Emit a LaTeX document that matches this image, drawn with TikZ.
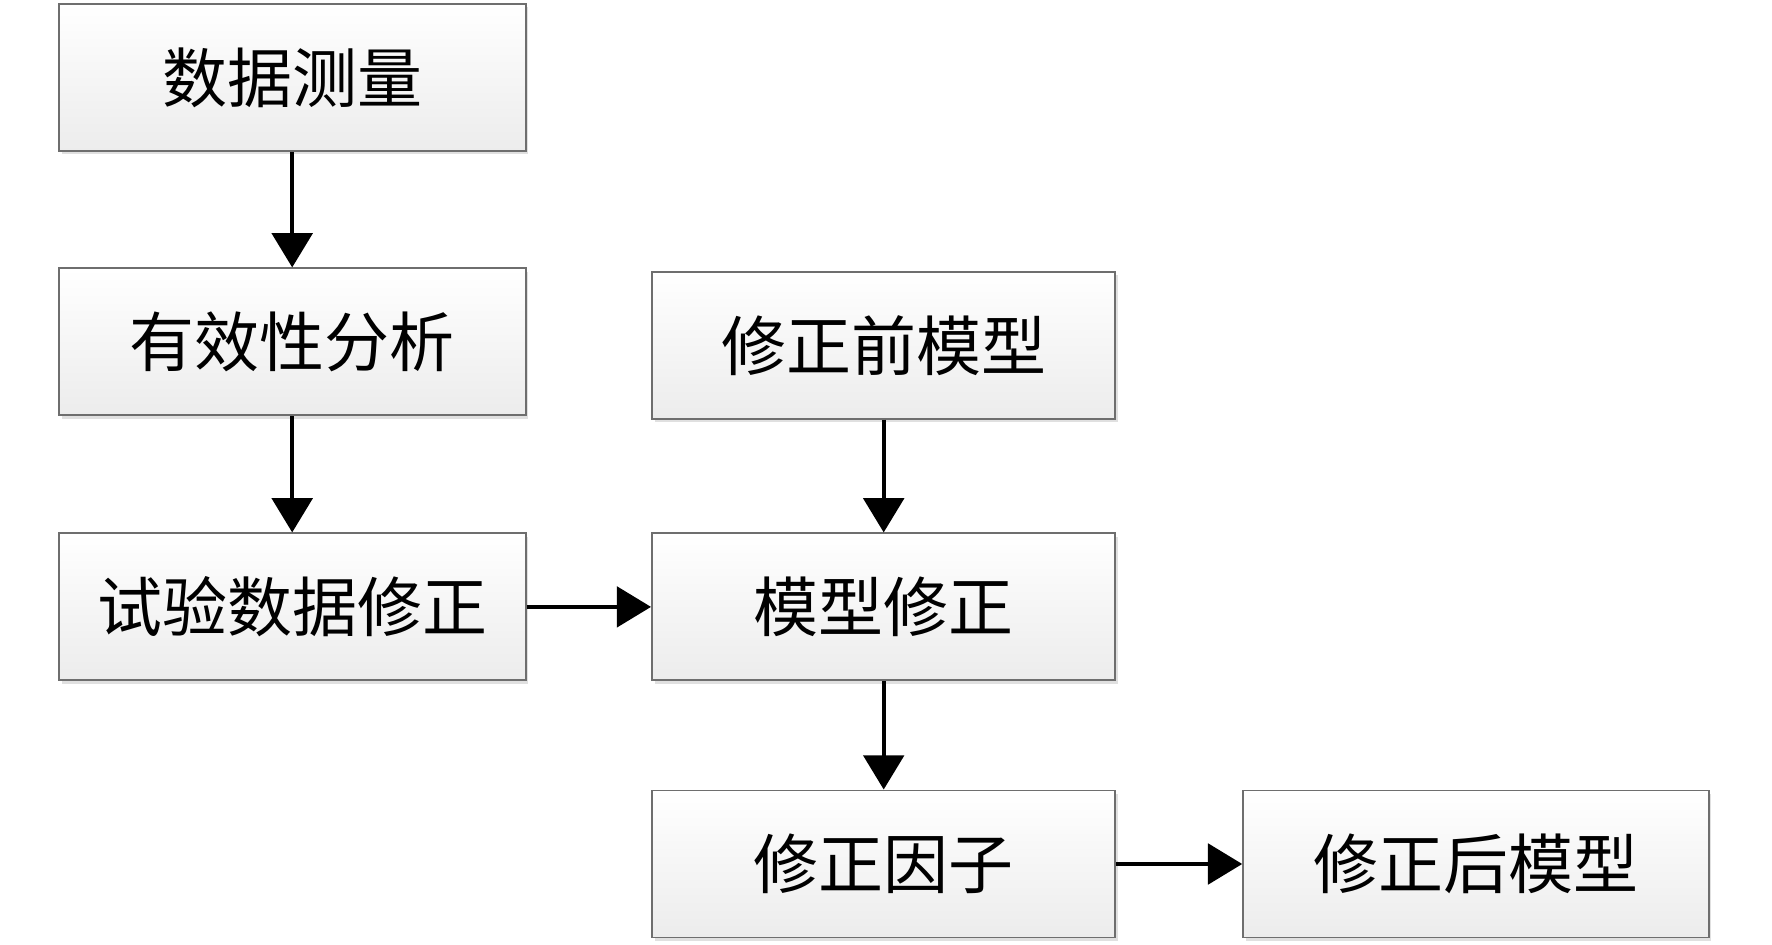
\documentclass[tikz,border=0pt]{standalone}
\usepackage{fontspec}
\newfontfamily\cjk{Noto Sans CJK SC}
\usetikzlibrary{arrows.meta,shadows}
\definecolor{boxline}{HTML}{6E6E6E}
\definecolor{boxbot}{HTML}{ECECEC}
\tikzset{
  box/.style={draw=boxline, line width=1.1pt, top color=white, bottom color=boxbot,
    minimum height=2.94cm, inner sep=0pt,
    font=\cjk\fontsize{37}{40}\selectfont,
    drop shadow={shadow xshift=1.6pt, shadow yshift=-1.8pt, fill=black, opacity=0.12}},
  arr/.style={line width=2.4pt, -{Triangle[length=19.5pt,width=23pt]}}
}
\begin{document}
\begin{tikzpicture}[x=0.02cm,y=-0.02cm]
\useasboundingbox (0,0) rectangle (1772,945);
\node[box, minimum width=9.34cm] (a) at (292.2,77.4) {数据测量};
\node[box, minimum width=9.34cm] (b) at (292.2,341.9) {有效性分析};
\node[box, minimum width=9.34cm] (c) at (292.2,606.9) {试验数据修正};
\node[box, minimum width=9.27cm] (d) at (883.7,345.3) {修正前模型};
\node[box, minimum width=9.27cm] (e) at (883.7,606.9) {模型修正};
\node[box, minimum width=9.27cm] (f) at (883.7,864) {修正因子};
\node[box, minimum width=9.31cm] (g) at (1475.9,864) {修正后模型};
\draw[arr] (a) -- (b);
\draw[arr] (b) -- (c);
\draw[arr] (d) -- (e);
\draw[arr] (c) -- (e);
\draw[arr] (e) -- (f);
\draw[arr] (f) -- (g);
\end{tikzpicture}
\end{document}
